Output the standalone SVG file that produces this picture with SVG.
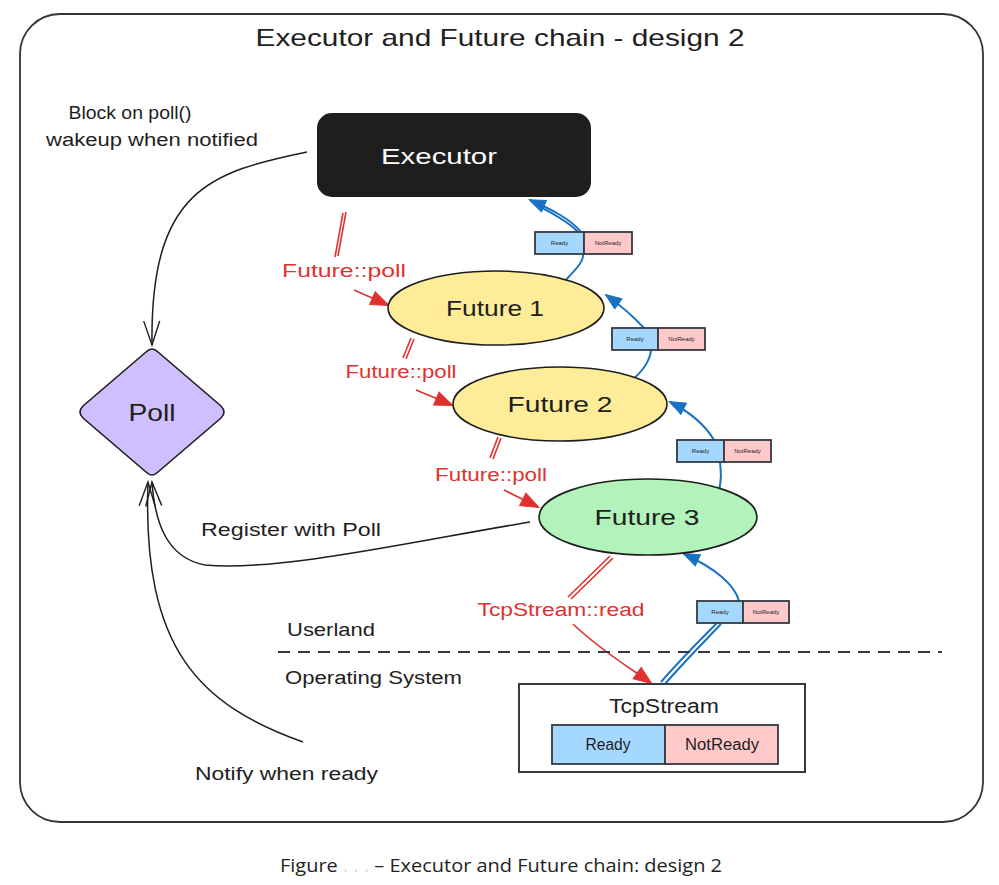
<svg xmlns="http://www.w3.org/2000/svg" width="999" height="885" viewBox="0 0 999 885">
<defs>
<style>
.t{font-family:"Liberation Sans","DejaVu Sans",sans-serif;fill:#1e1e1e;}
.r{font-family:"Liberation Sans","DejaVu Sans",sans-serif;fill:#e03131;}
.sk{stroke:#1e1e1e;stroke-width:1.6;}
.blk{fill:none;stroke:#1e1e1e;stroke-width:1.5;}
.red{fill:none;stroke:#e03131;stroke-width:1.6;}
.blue{fill:none;stroke:#1971c2;stroke-width:2;}
.rdy{fill:#a5d8ff;stroke:#343a40;stroke-width:1.8;}
.nrdy{fill:#ffc9c9;stroke:#343a40;stroke-width:1.8;}
.tiny{font-family:"Liberation Sans",sans-serif;font-size:6px;fill:#1e1e1e;}
</style>
<marker id="openBlk" viewBox="0 0 28 20" refX="26" refY="10" markerWidth="28" markerHeight="20" markerUnits="userSpaceOnUse" orient="auto">
<path d="M2,2 L26,10 L2,18" fill="none" stroke="#1e1e1e" stroke-width="1.4"/>
</marker>
<marker id="redHead" viewBox="0 0 20 20" refX="18" refY="10" markerWidth="20" markerHeight="20" markerUnits="userSpaceOnUse" orient="auto">
<path d="M1,3 L19,10 L1,17 Z" fill="#e03131" stroke="#e03131" stroke-width="1"/>
</marker>
<marker id="blueHead" viewBox="0 0 20 20" refX="18" refY="10" markerWidth="18" markerHeight="18" markerUnits="userSpaceOnUse" orient="auto">
<path d="M1,3 L19,10 L1,17 Z" fill="#1971c2" stroke="#1971c2" stroke-width="1"/>
</marker>
</defs>

<rect width="999" height="885" fill="#ffffff"/>

<g id="frame">
<rect x="20" y="14" width="963" height="808" rx="40" ry="40" fill="none" stroke="#343434" stroke-width="1.8"/>
<text class="t" x="500" y="46" font-size="24" text-anchor="middle" textLength="489" lengthAdjust="spacingAndGlyphs">Executor and Future chain - design 2</text>
</g>

<g id="connectors">
<path class="blk" d="M307,152 C210,172 150,190 152,345" marker-end="url(#openBlk)"/>
<path class="blk" d="M530,522 C420,540 280,572 205,565 C168,558 155,525 152,482" marker-end="url(#openBlk)"/>
<path class="blk" d="M303,742 C200,705 142,650 148,482" marker-end="url(#openBlk)"/>

<path class="red" d="M346,212 L338,256"/>
<path class="red" d="M343,213 L335,257"/>
<path class="red" d="M354,290 L388,305" marker-end="url(#redHead)"/>
<path class="red" d="M411,338 L403,358"/>
<path class="red" d="M414,339 L406,359"/>
<path class="red" d="M416,390 L452,405" marker-end="url(#redHead)"/>
<path class="red" d="M498,437 L490,458"/>
<path class="red" d="M501,438 L493,459"/>
<path class="red" d="M504,490 L538,507" marker-end="url(#redHead)"/>
<path class="red" d="M610,556 L568,597"/>
<path class="red" d="M613,558 L571,599"/>
<path class="red" d="M573,624 C600,650 630,668 651,683" marker-end="url(#redHead)"/>

<path class="blue" d="M562,284 C575,270 584,262 583,254"/>
<path class="blue" d="M581,232 C570,218 548,208 530,200" marker-end="url(#blueHead)"/>
<path class="blue" d="M578,232 C566,219 545,210 533,203" stroke-width="1.5"/>
<path class="blue" d="M632,380 C644,370 650,360 651,350"/>
<path class="blue" d="M644,328 C632,315 620,305 606,295" marker-end="url(#blueHead)"/>
<path class="blue" d="M718,493 C722,482 721,472 720,462"/>
<path class="blue" d="M714,440 C705,425 690,412 670,402" marker-end="url(#blueHead)"/>
<path class="blue" d="M661,682 C680,660 700,640 717,623"/>
<path class="blue" d="M665,684 C684,662 704,642 721,624" stroke-width="1.5"/>
<path class="blue" d="M739,601 C735,585 715,568 684,554" marker-end="url(#blueHead)"/>
</g>

<g id="label-block">
<text class="t" x="130" y="119" font-size="18" text-anchor="middle" textLength="123" lengthAdjust="spacingAndGlyphs">Block on poll()</text>
<text class="t" x="152" y="146" font-size="18" text-anchor="middle" textLength="212" lengthAdjust="spacingAndGlyphs">wakeup when notified</text>
</g>

<g id="executor">
<rect x="318" y="114" width="272" height="82" rx="14" fill="#1e1e1e" stroke="#1e1e1e" stroke-width="2"/>
<text x="439" y="164" font-size="22" text-anchor="middle" fill="#ffffff" font-family="Liberation Sans, DejaVu Sans, sans-serif" textLength="116" lengthAdjust="spacingAndGlyphs">Executor</text>
</g>

<g id="future1">
<ellipse cx="496" cy="308" rx="108" ry="37" fill="#ffec99" class="sk"/>
<text class="t" x="495" y="316" font-size="22" text-anchor="middle" textLength="98" lengthAdjust="spacingAndGlyphs">Future 1</text>
</g>

<g id="future2">
<ellipse cx="560" cy="404" rx="107" ry="37" fill="#ffec99" class="sk"/>
<text class="t" x="560" y="412" font-size="22" text-anchor="middle" textLength="105" lengthAdjust="spacingAndGlyphs">Future 2</text>
</g>

<g id="future3">
<ellipse cx="648" cy="517" rx="109" ry="38" fill="#b2f2bb" class="sk"/>
<text class="t" x="647" y="525" font-size="22" text-anchor="middle" textLength="105" lengthAdjust="spacingAndGlyphs">Future 3</text>
</g>

<g id="poll">
<path d="M146,352 Q152,346 158,352 L221,406 Q227,412 221,418 L158,472 Q152,478 146,472 L83,418 Q77,412 83,406 Z" fill="#d0bfff" class="sk"/>
<text class="t" x="152" y="421" font-size="24" text-anchor="middle" textLength="47" lengthAdjust="spacingAndGlyphs">Poll</text>
</g>

<g id="red-labels">
<text class="r" x="344" y="277" font-size="18" text-anchor="middle" textLength="124" lengthAdjust="spacingAndGlyphs">Future::poll</text>
<text class="r" x="401" y="378" font-size="18" text-anchor="middle" textLength="111" lengthAdjust="spacingAndGlyphs">Future::poll</text>
<text class="r" x="491" y="481" font-size="18" text-anchor="middle" textLength="112" lengthAdjust="spacingAndGlyphs">Future::poll</text>
<text class="r" x="561" y="616" font-size="18" text-anchor="middle" textLength="167" lengthAdjust="spacingAndGlyphs">TcpStream::read</text>
</g>

<g id="label-register">
<text class="t" x="201" y="536" font-size="18" textLength="180" lengthAdjust="spacingAndGlyphs">Register with Poll</text>
</g>
<g id="label-notify">
<text class="t" x="195" y="780" font-size="18" textLength="183" lengthAdjust="spacingAndGlyphs">Notify when ready</text>
</g>

<g id="boundary">
<line x1="278" y1="652" x2="942" y2="652" stroke="#343a40" stroke-width="2" stroke-dasharray="12,8"/>
<text class="t" x="287" y="636" font-size="18" textLength="88" lengthAdjust="spacingAndGlyphs">Userland</text>
<text class="t" x="285" y="684" font-size="18" textLength="177" lengthAdjust="spacingAndGlyphs">Operating System</text>
</g>

<g id="state1">
<rect class="rdy" x="535" y="232" width="49" height="22"/>
<rect class="nrdy" x="584" y="232" width="48" height="22"/>
<text class="tiny" x="559.5" y="245" text-anchor="middle">Ready</text>
<text class="tiny" x="608" y="245" text-anchor="middle">NotReady</text>
</g>
<g id="state2">
<rect class="rdy" x="612" y="328" width="46" height="22"/>
<rect class="nrdy" x="658" y="328" width="47" height="22"/>
<text class="tiny" x="635" y="341" text-anchor="middle">Ready</text>
<text class="tiny" x="681.5" y="341" text-anchor="middle">NotReady</text>
</g>
<g id="state3">
<rect class="rdy" x="677" y="440" width="47" height="22"/>
<rect class="nrdy" x="724" y="440" width="47" height="22"/>
<text class="tiny" x="700.5" y="453" text-anchor="middle">Ready</text>
<text class="tiny" x="747.5" y="453" text-anchor="middle">NotReady</text>
</g>
<g id="state4">
<rect class="rdy" x="697" y="601" width="46" height="22"/>
<rect class="nrdy" x="743" y="601" width="46" height="22"/>
<text class="tiny" x="720" y="614" text-anchor="middle">Ready</text>
<text class="tiny" x="766" y="614" text-anchor="middle">NotReady</text>
</g>

<g id="tcpstream">
<rect x="519" y="684" width="286" height="88" fill="#ffffff" stroke="#343a40" stroke-width="2"/>
<text class="t" x="664" y="713" font-size="20" text-anchor="middle" textLength="110" lengthAdjust="spacingAndGlyphs">TcpStream</text>
<rect class="rdy" x="552" y="725" width="113" height="39"/>
<rect class="nrdy" x="665" y="725" width="113" height="39"/>
<text class="t" x="608" y="750" font-size="16" text-anchor="middle" textLength="45" lengthAdjust="spacingAndGlyphs">Ready</text>
<text class="t" x="722" y="750" font-size="16" text-anchor="middle" textLength="74" lengthAdjust="spacingAndGlyphs">NotReady</text>
</g>

<g id="caption">
<text x="501" y="872" font-size="19" text-anchor="middle" font-family="Open Sans, Liberation Sans, sans-serif" fill="#231f20" textLength="442" lengthAdjust="spacingAndGlyphs">Figure <tspan fill="#d8d8d8">. . .</tspan> – Executor and Future chain: design 2</text>
</g>
</svg>
